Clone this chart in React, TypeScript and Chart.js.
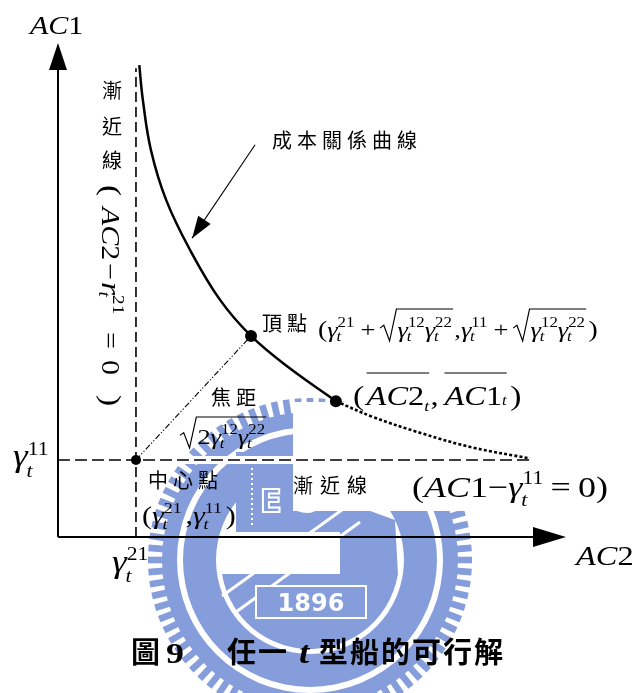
import { useEffect, useRef } from 'react';
import { Chart, registerables } from 'chart.js';

Chart.register(...registerables);

const SERIF = '"Liberation Serif", "Times New Roman", "DejaVu Serif", serif';
const CJK = '"Noto Sans CJK TC", "Noto Sans CJK SC", "Noto Sans CJK JP", sans-serif';
const HS = 1.2; // horizontal stretch applied to the math lettering

// ---- values (cost units on both axes) ----
const axisMax = 100;
const gamma21 = 15.35; // vertical asymptote   AC2 = γ21
const gamma11 = 15.6; // horizontal asymptote AC1 = γ11
const curveAC2 = [16.0, 16.7, 18.3, 21.3, 26.0, 31.9, 38.0, 45.3, 54.7];
const curveAC1 = [95.5, 88.5, 78.3, 68.2, 58.1, 48.0, 40.7, 34.4, 27.5];
const tailAC2 = [54.7, 62.0, 71.9, 81.7, 92.9];
const tailAC1 = [27.5, 24.3, 20.9, 18.1, 15.9];
const vertexPt = [38.0, 40.7];
const optimumPt = [54.7, 27.5];
const asymptoteTop = 94.9;
const asymptoteEnd = 92.9;
const calloutStart = [38.8, 79.4];
const calloutEnd = [26.4, 60.5];

type Seg =
  | { t: string; s: number; it?: boolean; b?: boolean; dx?: number; dy?: number }
  | { sup: string; sub: string; s: number; up: number; down: number; subDx?: number; dx?: number }
  | { root: Seg[]; s: number; top: number; bot: number; dx?: number }
  | { bar: Seg[]; lift: number; dx?: number };

const fnt = (s: number, it = false, b = false) =>
  `${it ? 'italic ' : ''}${b ? 'bold ' : ''}${s}px ${SERIF}`;

function flow(ctx: CanvasRenderingContext2D, x: number, y: number, segs: Seg[], draw: boolean): number {
  for (const g of segs) {
    x += (g as any).dx || 0;
    if ('t' in g) {
      ctx.font = fnt(g.s, g.it, g.b);
      if (draw) ctx.fillText(g.t, x, y + (g.dy || 0));
      x += ctx.measureText(g.t).width;
    } else if ('sup' in g) {
      ctx.font = fnt(g.s);
      const w1 = ctx.measureText(g.sup).width;
      if (draw) ctx.fillText(g.sup, x, y - g.up);
      ctx.font = fnt(g.s, true);
      const w2 = ctx.measureText(g.sub).width + (g.subDx || 0);
      if (draw) ctx.fillText(g.sub, x + (g.subDx || 0), y + g.down);
      x += Math.max(w1, w2);
    } else if ('root' in g) {
      const w = flow(ctx, 0, 0, g.root, false);
      const s = g.s;
      if (draw) {
        ctx.beginPath();
        ctx.moveTo(x, y - g.top * 0.32);
        ctx.lineTo(x + 0.14 * s, y - g.top * 0.42);
        ctx.lineTo(x + 0.36 * s, y + g.bot);
        ctx.lineTo(x + 0.62 * s, y - g.top);
        ctx.lineTo(x + 0.66 * s + w + 1, y - g.top);
        ctx.stroke();
      }
      flow(ctx, x + 0.66 * s, y, g.root, draw);
      x += 0.66 * s + w + 1;
    } else {
      const w = flow(ctx, 0, 0, g.bar, false);
      if (draw) {
        ctx.beginPath();
        ctx.moveTo(x, y - g.lift);
        ctx.lineTo(x + w, y - g.lift);
        ctx.stroke();
      }
      flow(ctx, x, y, g.bar, draw);
      x += w;
    }
  }
  return x;
}

function math(ctx: CanvasRenderingContext2D, x: number, y: number, segs: Seg[]) {
  ctx.save();
  ctx.translate(x, y);
  ctx.scale(HS, 1);
  ctx.textAlign = 'left';
  ctx.textBaseline = 'alphabetic';
  ctx.fillStyle = '#000';
  ctx.strokeStyle = '#000';
  ctx.lineWidth = 1;
  flow(ctx, 0, 0, segs, true);
  ctx.restore();
}

const gam = (s: number, sup: string, ss: number, up: number, down: number): Seg[] => [
  { t: 'γ', s, it: true },
  { sup, sub: 't', s: ss, up, down, subDx: -1 },
];

function cjk(ctx: CanvasRenderingContext2D, text: string, x: number, cy: number, size: number, pitch: number, bold = false) {
  ctx.save();
  ctx.font = `${bold ? 'bold ' : ''}${size}px ${CJK}`;
  ctx.textBaseline = 'middle';
  ctx.textAlign = 'left';
  ctx.fillStyle = '#000';
  [...text].forEach((ch, i) => ctx.fillText(ch, x + i * pitch, cy));
  ctx.restore();
}

function arrowHead(ctx: CanvasRenderingContext2D, fx: number, fy: number, tx: number, ty: number, len: number, half: number) {
  const a = Math.atan2(ty - fy, tx - fx);
  ctx.beginPath();
  ctx.moveTo(tx, ty);
  ctx.lineTo(tx - len * Math.cos(a) + half * Math.sin(a), ty - len * Math.sin(a) - half * Math.cos(a));
  ctx.lineTo(tx - len * Math.cos(a) - half * Math.sin(a), ty - len * Math.sin(a) + half * Math.cos(a));
  ctx.closePath();
  ctx.fill();
}

// faint university emblem behind the figure
function emblem(ctx: CanvasRenderingContext2D) {
  const cx = 310, cy = 560, blue = '#859dda';
  ctx.save();
  ctx.fillStyle = blue;
  for (let i = 0; i < 84; i++) {
    ctx.save();
    ctx.translate(cx, cy);
    ctx.rotate((i * Math.PI * 2) / 84);
    ctx.fillRect(-3.3, -162, 6.6, 16);
    ctx.restore();
  }
  const ring = (r0: number, r1: number) => {
    ctx.beginPath();
    ctx.arc(cx, cy, r1, 0, Math.PI * 2);
    ctx.arc(cx, cy, r0, 0, Math.PI * 2, true);
    ctx.fill();
  };
  ring(133, 148);
  ring(94, 127);
  // inner field: lower mass, building, hammer
  ctx.beginPath();
  ctx.arc(cx, cy, 89, Math.PI * 0.05, Math.PI * 0.95);
  ctx.closePath();
  ctx.fill();
  ctx.fillRect(236, 452, 104, 80);
  ctx.beginPath();
  ctx.moveTo(340, 500);
  ctx.lineTo(395, 520);
  ctx.lineTo(398, 575);
  ctx.lineTo(340, 575);
  ctx.closePath();
  ctx.fill();
  ctx.strokeStyle = '#fff';
  ctx.lineWidth = 3;
  ctx.beginPath();
  ctx.moveTo(222, 596);
  ctx.lineTo(346, 507);
  ctx.moveTo(236, 612);
  ctx.lineTo(360, 522);
  ctx.stroke();
  ctx.lineWidth = 2;
  ctx.font = 'bold 32px "DejaVu Sans"';
  ctx.strokeText('E', 260, 512);
  ctx.strokeText('S', 296, 512);
  ctx.setLineDash([2, 3]);
  ctx.beginPath();
  ctx.moveTo(252, 468);
  ctx.lineTo(252, 525);
  ctx.stroke();
  ctx.setLineDash([]);
  ctx.fillStyle = blue;
  ctx.fillRect(256, 586, 110, 32);
  ctx.strokeRect(256, 586, 110, 32);
  ctx.fillStyle = '#fff';
  ctx.font = 'bold 24px "DejaVu Sans"';
  ctx.textAlign = 'center';
  ctx.textBaseline = 'alphabetic';
  ctx.fillText('1896', 311, 611);
  // text boxes laid over the emblem
  ctx.fillRect(293, 402, 346, 109);
  ctx.fillRect(0, 456, 639, 8);
  ctx.restore();
}

const backdrop = {
  id: 'backdrop',
  beforeDraw(chart: Chart) {
    const ctx = chart.ctx;
    ctx.save();
    ctx.fillStyle = '#fff';
    ctx.fillRect(0, 0, chart.width, chart.height);
    emblem(ctx);
    ctx.restore();
  },
};

const annotations = {
  id: 'annotations',
  afterDraw(chart: Chart) {
    const ctx = chart.ctx;
    const X = (v: number) => chart.scales.x.getPixelForValue(v);
    const Y = (v: number) => chart.scales.y.getPixelForValue(v);
    ctx.save();
    ctx.fillStyle = '#000';
    ctx.strokeStyle = '#000';

    // axis arrowheads
    arrowHead(ctx, X(0), Y(0), X(axisMax), Y(0), 33, 10);
    arrowHead(ctx, X(0), Y(0), X(0), Y(axisMax), 27, 9);

    // callout pointing at the curve
    ctx.lineWidth = 1.1;
    ctx.beginPath();
    ctx.moveTo(X(calloutStart[0]), Y(calloutStart[1]));
    ctx.lineTo(X(calloutEnd[0]), Y(calloutEnd[1]));
    ctx.stroke();
    arrowHead(ctx, X(calloutStart[0]), Y(calloutStart[1]), X(calloutEnd[0]), Y(calloutEnd[1]), 22, 7.5);

    // axis titles
    math(ctx, 30, 34, [{ t: 'AC', s: 25, it: true }, { t: '1', s: 25 }]);
    math(ctx, 576, 565, [{ t: 'AC', s: 27, it: true }, { t: '2', s: 27 }]);
    math(ctx, 13, 466, gam(31, '11', 18, 11, 11));
    math(ctx, 112, 572, gam(31, '21', 18, 12, 10));

    // Chinese labels
    cjk(ctx, '成本關係曲線', 272, 140, 20, 25);
    cjk(ctx, '頂點', 262, 323, 20, 25);
    cjk(ctx, '焦距', 211, 397, 20, 25);
    cjk(ctx, '中心點', 148, 480, 20, 25);
    cjk(ctx, '漸近線', 293, 485, 20, 27);

    // vertex coordinates
    const rootTerm = (): Seg => ({
      root: [...gam(22, '12', 14, 10, 4), ...gam(22, '22', 14, 10, 4)],
      s: 22, top: 28, bot: 4, dx: 4,
    });
    math(ctx, 318, 337, [
      { t: '(', s: 23 },
      ...gam(22, '21', 14, 10, 4),
      { t: '+', s: 22, dx: 5 },
      rootTerm(),
      { t: ',', s: 22, dx: 1 },
      ...gam(22, '11', 14, 10, 4),
      { t: '+', s: 22, dx: 5 },
      rootTerm(),
      { t: ')', s: 23, dx: 2 },
    ]);

    // optimal point
    math(ctx, 353, 405, [
      { t: '(', s: 28 },
      {
        bar: [{ t: 'AC', s: 27, it: true }, { t: '2', s: 27 }, { sup: '', sub: 't', s: 15, up: 0, down: 6 }],
        lift: 32, dx: 2,
      },
      { t: ',', s: 27, dx: 1 },
      {
        bar: [{ t: 'AC', s: 27, it: true }, { t: '1', s: 27 }, { t: 't', s: 14, it: true }],
        lift: 32, dx: 5,
      },
      { t: ')', s: 28, dx: 3 },
    ]);

    // focal distance
    math(ctx, 180, 444, [
      { root: [{ t: '2', s: 22 }, ...gam(22, '12', 14, 10, 4), ...gam(22, '22', 14, 10, 4)], s: 22, top: 27, bot: 4 },
    ]);

    // centre point
    math(ctx, 142, 524, [
      { t: '(', s: 25 },
      ...gam(25, '21', 15, 11, 5),
      { t: ',', s: 25, dx: 3 },
      ...gam(25, '11', 15, 11, 5),
      { t: ')', s: 25, dx: 3 },
    ]);

    // horizontal asymptote equation
    math(ctx, 412, 497, [
      { t: '(', s: 30 },
      { t: 'AC', s: 30, it: true },
      { t: '1', s: 30 },
      { t: '−', s: 30 },
      ...gam(30, '11', 18, 13, 9),
      { t: '=', s: 30, dx: 6 },
      { t: '0', s: 30, dx: 6 },
      { t: ')', s: 30 },
    ]);

    // vertical asymptote label (upright characters, then rotated equation)
    ctx.save();
    ctx.font = `20px ${CJK}`;
    ctx.textAlign = 'center';
    ctx.textBaseline = 'middle';
    [['漸', 90], ['近', 126], ['線', 160]].forEach(([ch, yy]) => ctx.fillText(ch as string, 112, yy as number));
    ctx.restore();
    const vert: [number, Seg[]][] = [
      [2, [{ t: '(', s: 28 }]],
      [24, [{ t: 'AC', s: 25, it: true }, { t: '2', s: 25 }]],
      [80, [{ t: '−', s: 25 }]],
      [99, [{ t: 'r', s: 28, it: true }, { sup: '21', sub: 't', s: 16, up: 11, down: 3, subDx: -3 }]],
      [149, [{ t: '=', s: 25 }]],
      [177, [{ t: '0', s: 25 }]],
      [212, [{ t: ')', s: 28 }]],
    ];
    ctx.save();
    ctx.translate(102, 183);
    ctx.rotate(Math.PI / 2);
    vert.forEach(([u, segs]) => math(ctx, u, 0, segs));
    ctx.restore();

    // caption
    cjk(ctx, '圖', 131, 652, 29, 31, true);
    math(ctx, 166, 663, [{ t: '9', s: 30, b: true }]);
    cjk(ctx, '任一', 227, 652, 29, 31, true);
    math(ctx, 299, 663, [{ t: 't', s: 31, b: true, it: true }]);
    cjk(ctx, '型船的可行解', 319, 652, 29, 31, true);

    ctx.restore();
  },
};

export default function App() {
  const canvasRef = useRef<HTMLCanvasElement>(null);

  useEffect(() => {
    if (!canvasRef.current) return;
    const pts = (xs: number[], ys: number[]) => xs.map((x, i) => ({ x, y: ys[i] }));
    const chart = new Chart(canvasRef.current, {
      type: 'scatter',
      data: {
        datasets: [
          {
            data: [
              { x: gamma21, y: gamma11 },
              { x: vertexPt[0], y: vertexPt[1] },
              { x: optimumPt[0], y: optimumPt[1] },
            ],
            pointRadius: [5, 6, 6],
            backgroundColor: '#000',
            borderWidth: 0,
            showLine: false,
            clip: false,
          },
          {
            data: pts(curveAC2, curveAC1),
            showLine: true,
            borderColor: '#000',
            borderWidth: 2.5,
            pointRadius: 0,
            tension: 0.4,
            clip: false,
          },
          {
            data: pts(tailAC2, tailAC1),
            showLine: true,
            borderColor: '#000',
            borderWidth: 2.6,
            borderDash: [3, 2.2],
            pointRadius: 0,
            tension: 0.4,
            clip: false,
          },
          {
            data: [{ x: gamma21, y: gamma11 }, { x: vertexPt[0], y: vertexPt[1] }],
            showLine: true,
            borderColor: '#000',
            borderWidth: 1.1,
            borderDash: [6, 2, 1.2, 2, 1.2, 2],
            pointRadius: 0,
            clip: false,
          },
          {
            data: [{ x: gamma21, y: 0 }, { x: gamma21, y: asymptoteTop }],
            showLine: true,
            borderColor: '#000',
            borderWidth: 1.6,
            borderDash: [10, 5],
            pointRadius: 0,
            clip: false,
          },
          {
            data: [{ x: 0, y: gamma11 }, { x: asymptoteEnd, y: gamma11 }],
            showLine: true,
            borderColor: '#000',
            borderWidth: 1.6,
            borderDash: [12, 5],
            pointRadius: 0,
            clip: false,
          },
          {
            data: [{ x: 0, y: 0 }, { x: axisMax - 5, y: 0 }],
            showLine: true,
            borderColor: '#000',
            borderWidth: 2,
            pointRadius: 0,
            clip: false,
          },
          {
            data: [{ x: 0, y: 0 }, { x: 0, y: axisMax - 5 }],
            showLine: true,
            borderColor: '#000',
            borderWidth: 2,
            pointRadius: 0,
            clip: false,
          },
        ],
      },
      options: {
        responsive: false,
        animation: false,
        devicePixelRatio: 1,
        events: [],
        layout: { padding: { left: 58, right: 73, top: 43, bottom: 156 } },
        plugins: { legend: { display: false }, tooltip: { enabled: false } },
        scales: {
          x: { type: 'linear', min: 0, max: axisMax, display: false },
          y: { type: 'linear', min: 0, max: axisMax, display: false },
        },
      },
      plugins: [backdrop, annotations],
    } as any);
    return () => chart.destroy();
  }, []);

  return (
    <div style={{ position: 'absolute', left: 0, top: 0, width: 639, height: 693 }}>
      <canvas ref={canvasRef} width={639} height={693} style={{ display: 'block' }} />
    </div>
  );
}
